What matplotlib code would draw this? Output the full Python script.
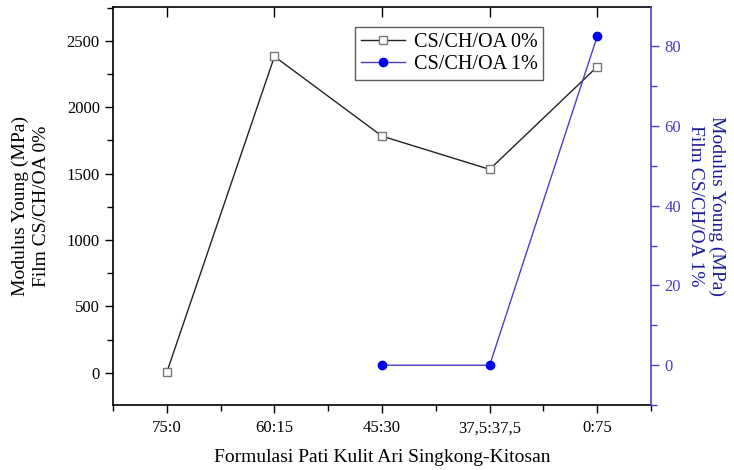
import matplotlib.pyplot as plt
from matplotlib.ticker import MultipleLocator, NullLocator

# data
formulasi = ["75:0", "60:15", "45:30", "37,5:37,5", "0:75"]
modulus_0 = [5, 2382, 1782, 1532, 2305]          # CS/CH/OA 0%
formulasi_1 = ["45:30", "37,5:37,5", "0:75"]
modulus_1 = [0, 0, 82.5]                          # CS/CH/OA 1%

plt.rcParams["font.family"] = ["Liberation Serif", "DejaVu Serif"]

blue_axis = "#4b3fc4"
blue_text = "#1c1c9c"

fig = plt.figure(figsize=(7.34, 4.70), dpi=100)
ax = fig.add_axes([0.154, 0.138, 0.733, 0.847])

x0 = [formulasi.index(f) + 1 for f in formulasi]
x1 = [formulasi.index(f) + 1 for f in formulasi_1]

l0, = ax.plot(x0, modulus_0, color="#222222", lw=1.0, marker="s", ms=6,
              mfc="white", mec="#777777", mew=1.0, label="CS/CH/OA 0%")

ax.set_xlim(0.5, 5.5)
ax.set_ylim(-243, 2754)
ax.set_xticks(x0)
ax.set_xticklabels(formulasi)
ax.set_xticks([0.5, 1.5, 2.5, 3.5, 4.5, 5.5], minor=True)
ax.yaxis.set_major_locator(MultipleLocator(500))
ax.yaxis.set_minor_locator(MultipleLocator(250))
ax.tick_params(axis="both", which="major", direction="out", length=6, width=1, labelsize=12)
ax.tick_params(axis="both", which="minor", direction="out", length=4, width=1)
ax.tick_params(axis="x", which="major", pad=5)

ax.set_xlabel("Formulasi Pati Kulit Ari Singkong-Kitosan", fontsize=14, labelpad=9)
ax.set_ylabel("Modulus Young (MPa)\nFilm CS/CH/OA 0%", fontsize=14, labelpad=12,
              linespacing=1.3)
ax.spines["right"].set_visible(False)
for s in ["left", "bottom", "top"]:
    ax.spines[s].set_linewidth(1.2)

ax2 = ax.twinx()
l1, = ax2.plot(x1, modulus_1, color=blue_axis, lw=1.0, marker="o", ms=6,
               mfc="#0000ee", mec="#0000ee", label="CS/CH/OA 1%")
ax2.set_ylim(-10, 89.8)
ax2.yaxis.set_major_locator(MultipleLocator(20))
ax2.yaxis.set_minor_locator(MultipleLocator(10))
ax2.tick_params(axis="y", which="major", direction="out", length=6, width=1,
                colors=blue_axis, labelsize=12)
ax2.tick_params(axis="y", which="minor", direction="out", length=4, width=1,
                colors=blue_axis)
ax2.spines["right"].set_color(blue_axis)
ax2.spines["right"].set_linewidth(1.2)
ax2.spines["left"].set_visible(False)
ax2.spines["top"].set_visible(False)
ax2.spines["bottom"].set_visible(False)
ax2.set_ylabel("Modulus Young (MPa)\nFilm CS/CH/OA 1%", fontsize=14,
               color=blue_text, rotation=270, labelpad=32, linespacing=1.3)

# top axis: inward major ticks only
ax3 = ax.twiny()
ax3.set_xlim(ax.get_xlim())
ax3.set_xticks(x0)
ax3.xaxis.set_minor_locator(NullLocator())
ax3.tick_params(axis="x", which="major", direction="in", length=7, width=1,
                labeltop=False)
for s in ["left", "right", "bottom", "top"]:
    ax3.spines[s].set_visible(False)

leg = ax.legend(handles=[l0, l1], loc="upper center", bbox_to_anchor=(0.625, 0.975),
                fontsize=14.5, frameon=True, fancybox=False, edgecolor="#333333",
                handlelength=2.2, borderpad=0.3, labelspacing=0.15, handletextpad=0.4)
leg.get_frame().set_linewidth(1.0)

plt.savefig("out.png", dpi=100)
